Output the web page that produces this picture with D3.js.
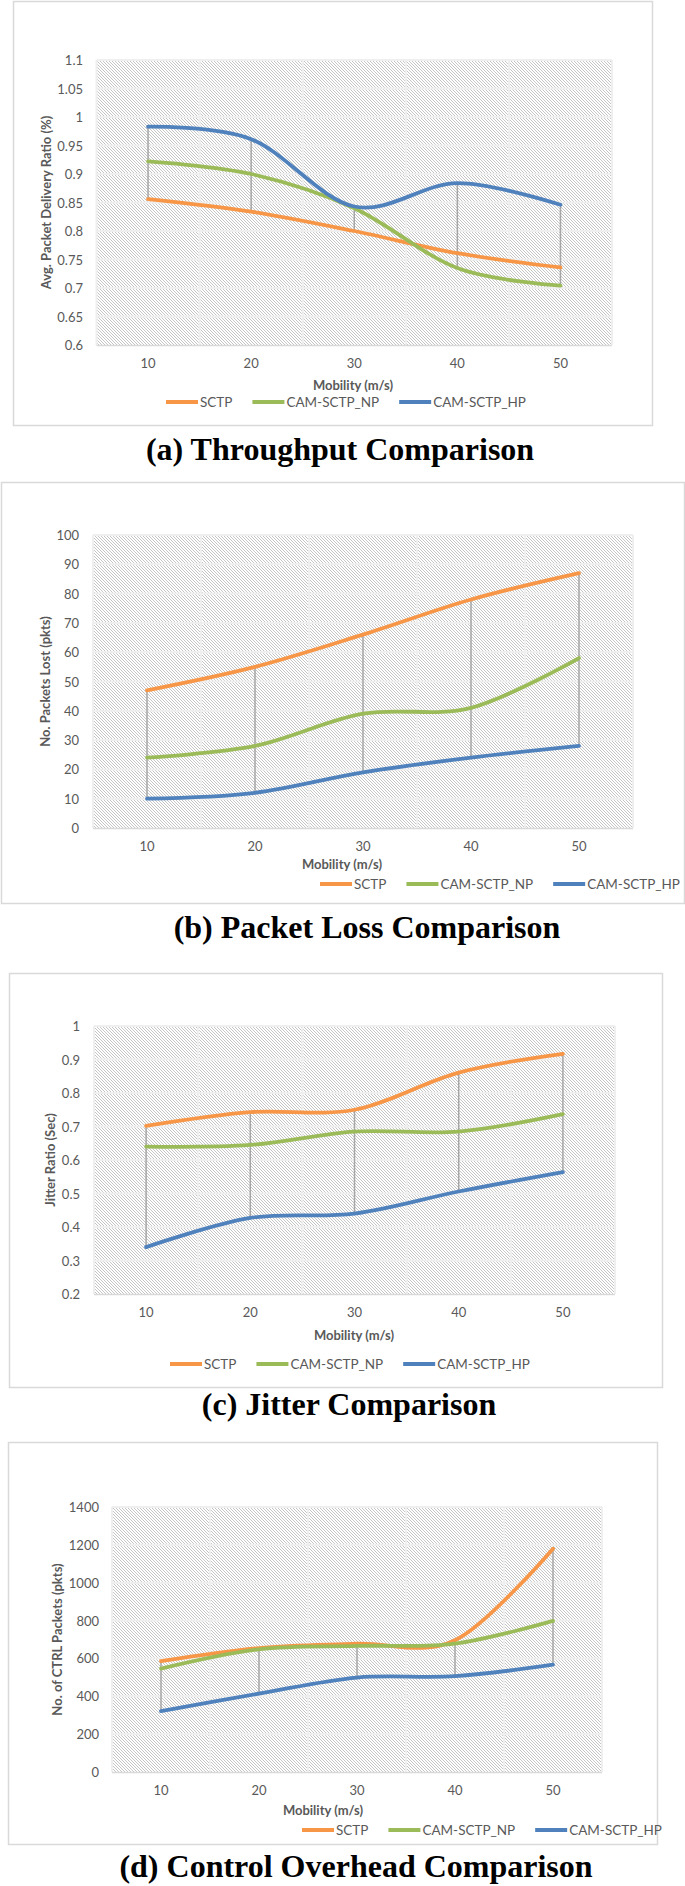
<!DOCTYPE html>
<html>
<head>
<meta charset="utf-8">
<script src="https://cdn.jsdelivr.net/npm/d3@7"></script>
<style>
  html, body { margin: 0; padding: 0; background: #fff; }
  svg { display: block; }
</style>
</head>
<body>
<svg id="fig" width="685" height="1886"></svg>
<script>
// ---------------- DATA ----------------
const categories = [10, 20, 30, 40, 50];
const seriesNames = ["SCTP", "CAM-SCTP_NP", "CAM-SCTP_HP"];

const pdrTicks = [0.6, 0.65, 0.7, 0.75, 0.8, 0.85, 0.9, 0.95, 1, 1.05, 1.1];
const pdrSCTP = [0.856, 0.834, 0.800, 0.761, 0.736];
const pdrNP   = [0.922, 0.900, 0.840, 0.735, 0.704];
const pdrHP   = [0.983, 0.961, 0.843, 0.884, 0.846];

const lossTicks = [0, 10, 20, 30, 40, 50, 60, 70, 80, 90, 100];
const lossSCTP = [47, 55, 66, 78, 87];
const lossNP   = [24, 28, 39, 41, 58];
const lossHP   = [10, 12, 19, 24, 28];

const jitterTicks = [0.2, 0.3, 0.4, 0.5, 0.6, 0.7, 0.8, 0.9, 1];
const jitterSCTP = [0.702, 0.743, 0.750, 0.861, 0.917];
const jitterNP   = [0.640, 0.645, 0.685, 0.685, 0.737];
const jitterHP   = [0.340, 0.427, 0.440, 0.506, 0.564];

const ctrlTicks = [0, 200, 400, 600, 800, 1000, 1200, 1400];
const ctrlSCTP = [586, 655, 678, 696, 1180];
const ctrlNP   = [546, 648, 666, 678, 798];
const ctrlHP   = [322, 414, 499, 506, 567];

const xTitle = "Mobility (m/s)";
const yTitles = ["Avg. Packet Delivery Ratio (%)", "No. Packets Lost (pkts)", "Jitter Ratio (Sec)", "No. of CTRL Packets (pkts)"];
const captions = ["(a) Throughput Comparison", "(b) Packet Loss Comparison", "(c) Jitter Comparison", "(d) Control Overhead Comparison"];

// ---------------- STYLE / LAYOUT ----------------
const colors = ["#F79646", "#9BBB59", "#4F81BD"];
const textGray = "#595959";
const sansFont = "Lato, 'Open Sans', sans-serif";

const charts = [
  { ticks: pdrTicks, series: [pdrSCTP, pdrNP, pdrHP], yTitle: yTitles[0], caption: captions[0],
    box: [13, 1, 652, 425], plot: [96.5, 60, 612, 345], yLabelX: 83, yTitleX: 46,
    mob: [353, 385], legend: [166, 402], cap: [340, 450] },
  { ticks: lossTicks, series: [lossSCTP, lossNP, lossHP], yTitle: yTitles[1], caption: captions[1],
    box: [1, 482, 684, 903], plot: [93, 535, 633, 828], yLabelX: 79, yTitleX: 45,
    mob: [342, 864], legend: [320, 884], cap: [367, 928] },
  { ticks: jitterTicks, series: [jitterSCTP, jitterNP, jitterHP], yTitle: yTitles[2], caption: captions[2],
    box: [9, 973, 662, 1387], plot: [94, 1026, 615, 1294], yLabelX: 80, yTitleX: 50,
    mob: [354, 1335], legend: [170, 1364], cap: [349, 1405] },
  { ticks: ctrlTicks, series: [ctrlSCTP, ctrlNP, ctrlHP], yTitle: yTitles[3], caption: captions[3],
    box: [8, 1442, 657, 1844], plot: [112, 1507, 602, 1772], yLabelX: 99, yTitleX: 57,
    mob: [323, 1810], legend: [302, 1830], cap: [356, 1867] }
];

const svg = d3.select("#fig");
const defs = svg.append("defs");
const pat = defs.append("pattern").attr("id", "hatch")
  .attr("patternUnits", "userSpaceOnUse").attr("width", 3).attr("height", 3);
pat.append("rect").attr("width", 3).attr("height", 3).attr("fill", "#ffffff");
pat.append("path").attr("d", "M0,0 L3,3 M-1,2 L1,4 M2,-1 L4,1")
  .attr("stroke", "#b2b2b2").attr("stroke-width", 0.75);

charts.forEach((c) => {
  const g = svg.append("g");
  const [bx0, by0, bx1, by1] = c.box;
  g.append("rect").attr("x", bx0 + 0.5).attr("y", by0 + 0.5)
    .attr("width", bx1 - bx0).attr("height", by1 - by0)
    .attr("fill", "#fff").attr("stroke", "#d9d9d9").attr("stroke-width", 1.5);

  const [px0, py0, px1, py1] = c.plot;
  const x = d3.scaleBand().domain(categories).range([px0, px1]);
  const y = d3.scaleLinear().domain([c.ticks[0], c.ticks[c.ticks.length - 1]]).range([py1, py0]);
  const cx = (d) => x(d) + x.bandwidth() / 2;

  // plot background
  g.append("rect").attr("x", px0).attr("y", py0).attr("width", px1 - px0).attr("height", py1 - py0)
    .attr("fill", "url(#hatch)");

  // gridlines
  g.append("g").selectAll("line").data(c.ticks.slice(1)).join("line")
    .attr("x1", px0).attr("x2", px1).attr("y1", d => y(d)).attr("y2", d => y(d))
    .attr("stroke", "#efefef").attr("stroke-width", 2);
  const bounds = categories.map(d => x(d)).concat([px1]);
  g.append("g").selectAll("line").data(bounds).join("line")
    .attr("x1", d => d).attr("x2", d => d).attr("y1", py0).attr("y2", py1)
    .attr("stroke", "#efefef").attr("stroke-width", 2);
  // axis line
  g.append("line").attr("x1", px0).attr("x2", px1).attr("y1", py1 + 0.5).attr("y2", py1 + 0.5)
    .attr("stroke", "#d9d9d9").attr("stroke-width", 1.5);

  // y tick labels
  g.append("g").selectAll("text").data(c.ticks).join("text")
    .attr("x", c.yLabelX).attr("y", d => y(d))
    .attr("text-anchor", "end").attr("dominant-baseline", "central")
    .attr("font-family", sansFont).attr("font-size", 13).attr("fill", textGray)
    .text(d => String(+d.toFixed(2)));

  // x tick labels
  g.append("g").selectAll("text").data(categories).join("text")
    .attr("x", cx).attr("y", py1 + 18)
    .attr("text-anchor", "middle").attr("dominant-baseline", "central")
    .attr("font-family", sansFont).attr("font-size", 13).attr("fill", textGray)
    .text(d => d);

  // high-low (drop) lines
  g.append("g").selectAll("line").data(categories).join("line")
    .attr("x1", cx).attr("x2", cx)
    .attr("y1", (d, i) => y(d3.max(c.series, s => s[i])))
    .attr("y2", (d, i) => y(d3.min(c.series, s => s[i])))
    .attr("stroke", "#a6a6a6").attr("stroke-width", 1.5);

  // series
  const line = d3.line().x((d, i) => cx(categories[i])).y(d => y(d))
    .curve(d3.curveCardinal.tension(0));
  c.series.forEach((s, k) => {
    g.append("path").attr("d", line(s)).attr("fill", "none")
      .attr("stroke", colors[k]).attr("stroke-width", 3.8).attr("stroke-linecap", "round");
  });

  // axis titles
  g.append("text").attr("x", c.mob[0]).attr("y", c.mob[1])
    .attr("text-anchor", "middle").attr("dominant-baseline", "central")
    .attr("font-family", sansFont).attr("font-weight", "bold").attr("font-size", 13).attr("fill", textGray)
    .text(xTitle);
  g.append("text")
    .attr("transform", `translate(${c.yTitleX},${(py0 + py1) / 2}) rotate(-90)`)
    .attr("text-anchor", "middle").attr("dominant-baseline", "central")
    .attr("font-family", sansFont).attr("font-weight", "bold").attr("font-size", 13).attr("fill", textGray)
    .text(c.yTitle);

  // legend
  let lx = c.legend[0];
  const ly = c.legend[1];
  seriesNames.forEach((name, k) => {
    g.append("line").attr("x1", lx).attr("x2", lx + 32).attr("y1", ly).attr("y2", ly)
      .attr("stroke", colors[k]).attr("stroke-width", 4);
    const t = g.append("text").attr("x", lx + 34).attr("y", ly)
      .attr("dominant-baseline", "central")
      .attr("font-family", sansFont).attr("font-size", 13.5).attr("fill", textGray)
      .text(name);
    lx += 34 + t.node().getComputedTextLength() + 20;
  });

  // caption
  g.append("text").attr("x", c.cap[0]).attr("y", c.cap[1] + 10)
    .attr("text-anchor", "middle")
    .attr("font-family", "'Liberation Serif', 'Times New Roman', serif")
    .attr("font-weight", "bold").attr("font-size", 32).attr("fill", "#000")
    .text(c.caption);
});
</script>
</body>
</html>
